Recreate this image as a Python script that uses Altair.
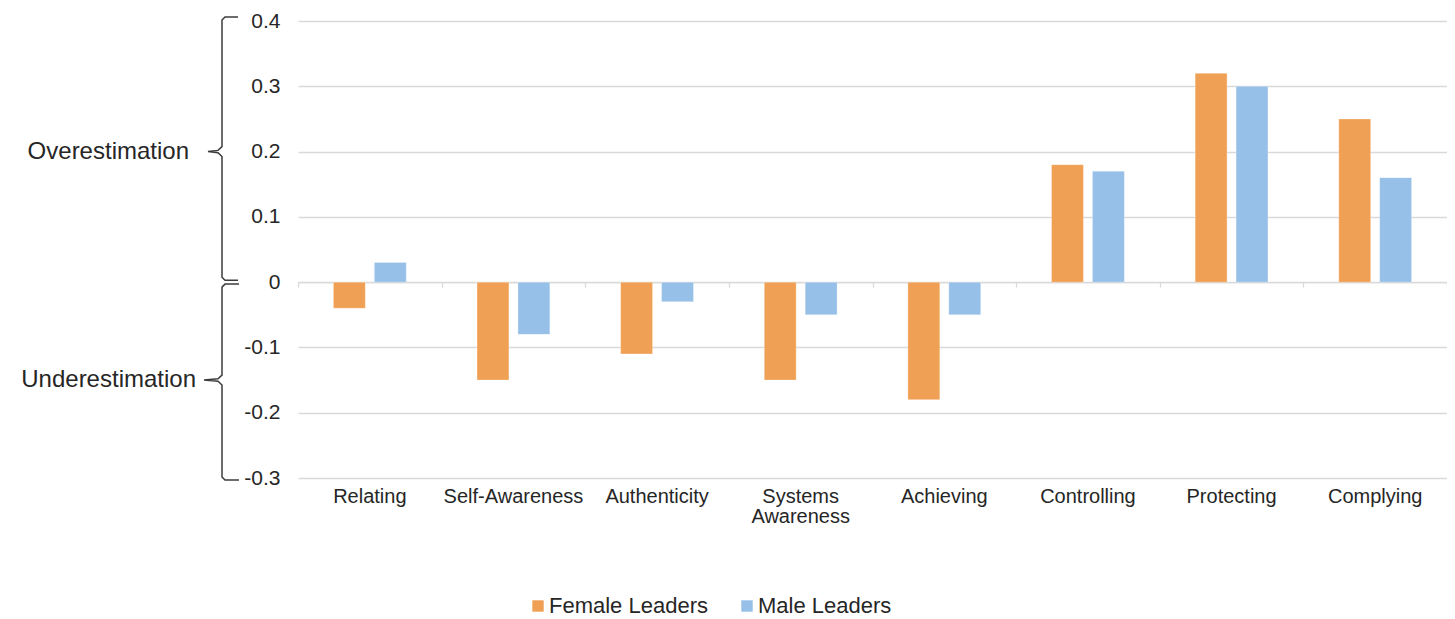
import altair as alt
import pandas as pd

categories = ["Relating", "Self-Awareness", "Authenticity", "Systems Awareness",
              "Achieving", "Controlling", "Protecting", "Complying"]
series = ["Female Leaders", "Male Leaders"]
female = [-0.04, -0.15, -0.11, -0.15, -0.18, 0.18, 0.32, 0.25]
male = [0.03, -0.08, -0.03, -0.05, -0.05, 0.17, 0.30, 0.16]
colors = ["#F0A054", "#96C0E8"]
y_ticks = [-0.3, -0.2, -0.1, 0, 0.1, 0.2, 0.3, 0.4]
annot_labels = ["Overestimation", "Underestimation"]
annot_y = [0.2, -0.15]

W, H = 1149, 457
Y_MIN, Y_MAX = -0.3, 0.4
PX = H / (Y_MAX - Y_MIN)  # pixels per unit
FONT = "Liberation Sans"
TXT = "#262626"

rows = []
for c, f, m in zip(categories, female, male):
    rows.append({"category": c, "series": series[0], "value": f})
    rows.append({"category": c, "series": series[1], "value": m})
df = pd.DataFrame(rows)


def brace(name, top, bot, mid, xv, xh, xp):
    d = lambda p: p / PX
    pts = [(xh, top), (xv + 3, top), (xv, top - d(3)), (xv, mid + d(5)),
           (xv - 4, mid + d(1.2)), (xp, mid), (xv - 4, mid - d(1.2)),
           (xv, mid - d(5)), (xv, bot + d(3)), (xv + 3, bot), (xh, bot)]
    return [{"brace": name, "i": i, "bx": x, "by": y} for i, (x, y) in enumerate(pts)]


bdf = pd.DataFrame(brace("over", 0.406, 0.003, 0.2, -76, -60, -90)
                   + brace("under", -0.003, -0.303, -0.15, -76, -59, -94))

yscale = alt.Scale(domain=[Y_MIN, Y_MAX], nice=False, zero=False)
xscale = alt.Scale(paddingInner=0, paddingOuter=0)

bars = alt.Chart(df).mark_bar(stroke="white", strokeWidth=0.6, strokeOpacity=0.5).encode(
    x=alt.X("category:N", sort=categories, scale=xscale, title=None,
            axis=alt.Axis(orient="bottom", ticks=False, domain=False, grid=False,
                          labelAngle=0, labelFont=FONT, labelFontSize=20,
                          labelColor=TXT, labelPadding=8, labelOverlap=False,
                          labelExpr="split(datum.label, ' ')", labelLineHeight=20,
                          labelBaseline="top")),
    xOffset=alt.XOffset("series:N", sort=series,
                        scale=alt.Scale(paddingInner=0.22, paddingOuter=0.865)),
    y=alt.Y("value:Q", scale=yscale, title=None,
            axis=alt.Axis(values=y_ticks, ticks=False, domain=False, grid=True,
                          gridColor="#D9D9D9", gridWidth=1.3,
                          labelFont=FONT, labelFontSize=21, labelColor=TXT,
                          labelPadding=18, labelExpr="'' + datum.value")),
    color=alt.Color("series:N", sort=series,
                    scale=alt.Scale(domain=series, range=colors),
                    legend=alt.Legend(title=None, orient="none", direction="horizontal",
                                      legendX=229, legendY=574,
                                      symbolType="square", symbolSize=130,
                                      symbolStrokeWidth=0, symbolOpacity=1,
                                      labelFont=FONT, labelFontSize=22,
                                      labelColor=TXT, labelOffset=0,
                                      columnPadding=28)),
)

zero_axis = alt.Chart(df).mark_point(opacity=0).encode(
    x=alt.X("category:N", sort=categories, title=None,
            axis=alt.Axis(orient="bottom", labels=False, grid=False, domain=True,
                          domainColor="#D9D9D9", domainWidth=1.3, ticks=True,
                          tickColor="#D9D9D9", tickWidth=1.3, tickSize=5,
                          tickBand="extent", offset=-(H - Y_MAX * PX))),
    y=alt.Y("value:Q", scale=yscale, title=None),
)

braces = alt.Chart(bdf).mark_line(color="#3C3C3C", strokeWidth=1.5).encode(
    x=alt.X("bx:Q", scale=None, axis=None),
    y=alt.Y("by:Q", scale=yscale, title=None),
    detail="brace:N",
    order=alt.Order("i:Q"),
)

over = alt.Chart(pd.DataFrame({"t": [annot_labels[0]], "y": [annot_y[0]]})).mark_text(
    align="right", baseline="middle", font=FONT, fontSize=24, color=TXT
).encode(x=alt.value(-109), y=alt.Y("y:Q", scale=yscale, title=None), text="t:N")

under = alt.Chart(pd.DataFrame({"t": [annot_labels[1]], "y": [annot_y[1]]})).mark_text(
    align="right", baseline="middle", font=FONT, fontSize=24, color=TXT
).encode(x=alt.value(-102), y=alt.Y("y:Q", scale=yscale, title=None), text="t:N")

chart = alt.layer(bars, zero_axis, braces, over, under).resolve_axis(
    x="independent"
).properties(
    width=W, height=H,
    autosize=alt.AutoSizeParams(type="none"),
    padding={"left": 290, "top": 13, "right": 0, "bottom": 140},
).configure_view(stroke=None)

chart.save("out.html", embed_options={"renderer": "svg", "actions": False})
